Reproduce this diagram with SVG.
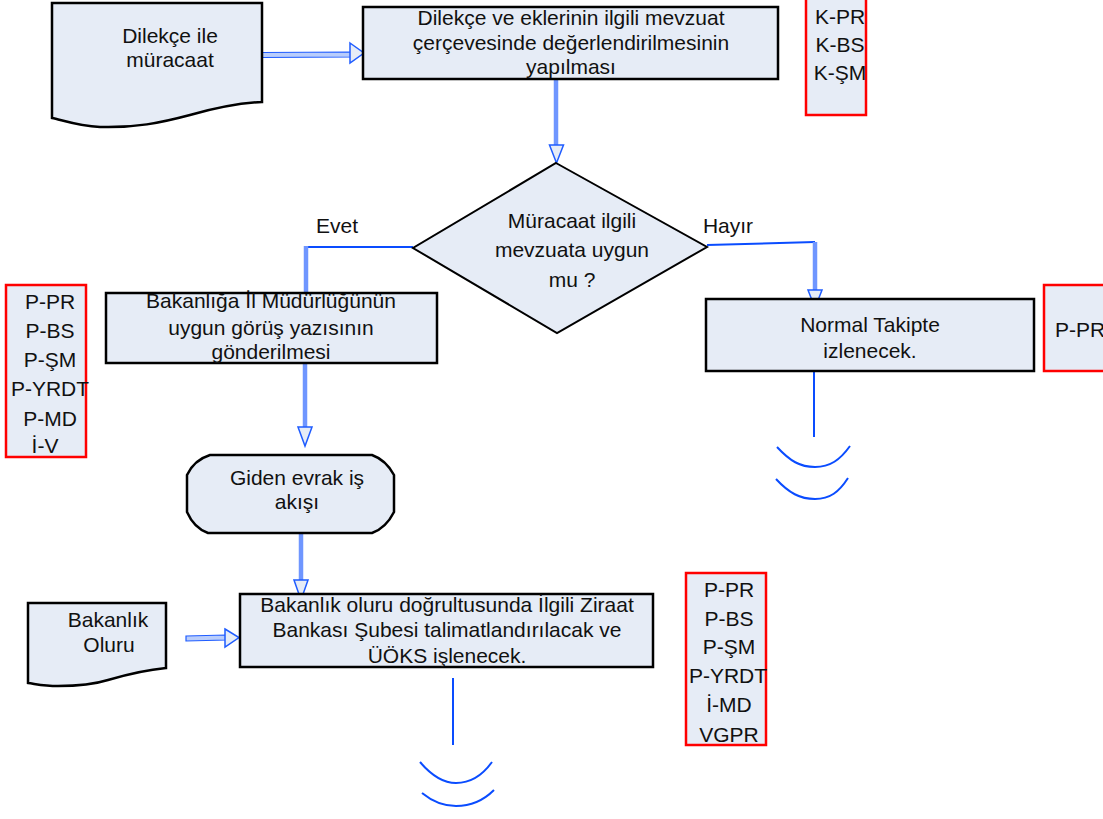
<svg xmlns="http://www.w3.org/2000/svg" width="1103" height="819" viewBox="0 0 1103 819">
<style>
.box{fill:#e6ecf6;stroke:#000;stroke-width:2.5}
.red{fill:#e6ecf6;stroke:#ff0000;stroke-width:2.5}
text{font-family:"Liberation Sans",Arial,sans-serif;font-size:21px;fill:#111;text-anchor:middle}
.thin{fill:none;stroke:#0a4cff;stroke-width:2}
.thick{fill:none;stroke:#6f96ff;stroke-width:4.5}
.head{fill:#e6ecf6;stroke:#1f5cff;stroke-width:1.5}
.block{fill:#b9cdfb;stroke:#1f5cff;stroke-width:1.2}
</style>
<rect width="1103" height="819" fill="#fff"/>
<g id="connectors">
  <polygon class="block" points="262,52.5 351,52 351,57 262,57.5"/>
  <polygon class="head" points="350,43 364,53 350,63"/>
  <line class="thick" x1="556" y1="80" x2="556" y2="146"/>
  <polygon class="head" points="549.5,145 563.5,145 556.5,163"/>
  <polyline class="thin" points="413,247 306,247"/>
  <line class="thick" x1="306" y1="246" x2="306" y2="293"/>
  <polyline class="thin" points="707,245 815,242"/>
  <line class="thick" x1="815" y1="242" x2="815" y2="292"/>
  <polygon class="head" points="808,290 822,290 815,308"/>
  <line class="thick" x1="305" y1="364" x2="305" y2="428"/>
  <polygon class="head" points="298,427 312,427 305,446"/>
  <line class="thick" x1="301" y1="534" x2="301" y2="582"/>
  <polygon class="head" points="294,580 308,580 301,600"/>
  <polygon class="block" points="186,636 226,635 226,640 186,641"/>
  <polygon class="head" points="225,629 239,637.5 225,647"/>
  <line class="thin" x1="814" y1="371" x2="814" y2="437"/>
  <path class="thin" d="M777,447 C790,461 800,467 815,467 C830,467 840,460 850,446"/>
  <path class="thin" d="M776,479 C789,493 800,499 815,499 C830,499 839,492 848,478"/>
  <line class="thin" x1="453" y1="678" x2="453" y2="745"/>
  <path class="thin" d="M420,762 C432,776 443,783 456,783 C471,783 482,776 492,762"/>
  <path class="thin" d="M422,793 C433,802 443,806 456,806 C471,806 484,800 494,790"/>
</g>
<g id="doc1">
  <path class="box" d="M52,3 H262 V102 C240,103 215,108 190,115 C160,123 135,128 100,127 C78,126 62,120 52,118 Z"/>
  <text x="170" y="43">Dilekçe ile</text>
  <text x="170" y="67">müracaat</text>
</g>
<g id="box2">
  <rect class="box" x="363" y="7" width="415" height="72"/>
  <text x="571" y="25">Dilekçe ve eklerinin ilgili mevzuat</text>
  <text x="571" y="50">çerçevesinde değerlendirilmesinin</text>
  <text x="571" y="74">yapılması</text>
</g>
<g id="k-box">
  <rect class="red" x="806" y="-3" width="60" height="118"/>
  <text x="840" y="24">K-PR</text>
  <text x="840" y="52">K-BS</text>
  <text x="840" y="80">K-ŞM</text>
</g>
<g id="diamond">
  <polygon class="box" style="stroke-width:2" points="556,163 707,247 557,333 413,248"/>
  <text x="572" y="228">Müracaat ilgili</text>
  <text x="572" y="257">mevzuata uygun</text>
  <text x="572" y="287">mu ?</text>
</g>
<g id="label-evet"><text x="337" y="233">Evet</text></g>
<g id="label-hayir"><text x="728" y="233">Hayır</text></g>
<g id="box3">
  <rect class="box" x="106" y="293" width="331" height="70"/>
  <text x="271" y="308">Bakanlığa İl Müdürlüğünün</text>
  <text x="271" y="335">uygun görüş yazısının</text>
  <text x="271" y="359">gönderilmesi</text>
</g>
<g id="p-box-left">
  <rect class="red" x="6" y="285" width="80" height="172"/>
  <text x="50" y="309">P-PR</text>
  <text x="50" y="338">P-BS</text>
  <text x="50" y="367">P-ŞM</text>
  <text x="50" y="396">P-YRDT</text>
  <text x="50" y="426">P-MD</text>
  <text x="45" y="453">İ-V</text>
</g>
<g id="box4">
  <rect class="box" x="706" y="299" width="328" height="72"/>
  <text x="870" y="332">Normal Takipte</text>
  <text x="870" y="358">izlenecek.</text>
</g>
<g id="p-box-right">
  <rect class="red" x="1044" y="285" width="70" height="86"/>
  <text x="1055" y="337" style="text-anchor:start">P-PR</text>
</g>
<g id="giden">
  <path class="box" d="M210,455 H372 Q386,460 394,475 V512 Q386,528 372,533 H208 Q194,528 187,512 V475 Q194,460 210,455 Z"/>
  <text x="297" y="485">Giden evrak iş</text>
  <text x="297" y="509">akışı</text>
</g>
<g id="box5">
  <rect class="box" x="240" y="594" width="413" height="73"/>
  <text x="447" y="612">Bakanlık oluru doğrultusunda İlgili Ziraat</text>
  <text x="447" y="637">Bankası Şubesi talimatlandırılacak ve</text>
  <text x="447" y="663">ÜÖKS işlenecek.</text>
</g>
<g id="doc2">
  <path class="box" d="M28,603 H166 V668 C145,670 125,675 108,680 C92,685 75,686 58,686 C44,686 36,684 28,683 Z"/>
  <text x="108" y="627">Bakanlık</text>
  <text x="109" y="652">Oluru</text>
</g>
<g id="p-box-bottom">
  <rect class="red" x="686" y="573" width="80" height="172"/>
  <text x="729" y="597">P-PR</text>
  <text x="729" y="626">P-BS</text>
  <text x="729" y="654">P-ŞM</text>
  <text x="728" y="683">P-YRDT</text>
  <text x="729" y="712">İ-MD</text>
  <text x="729" y="742">VGPR</text>
</g>
</svg>
